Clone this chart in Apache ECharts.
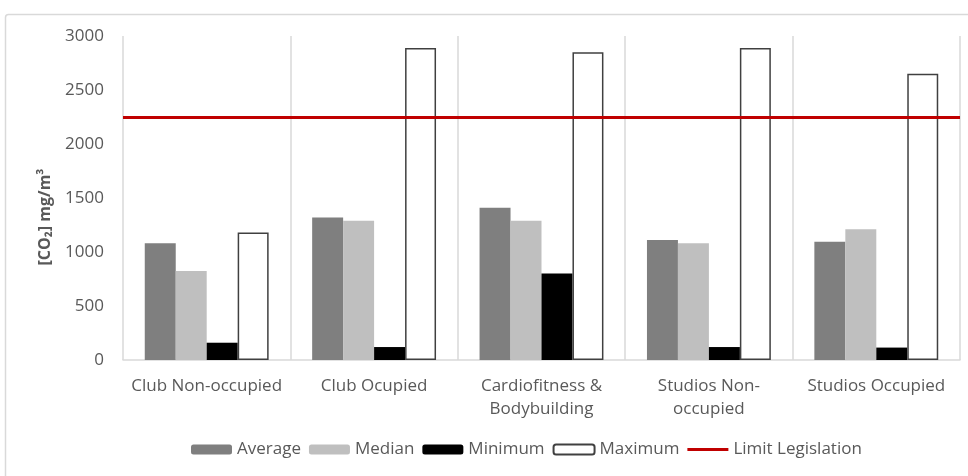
<!DOCTYPE html>
<html>
<head>
<meta charset="utf-8">
<script src="https://cdn.jsdelivr.net/npm/echarts@6/dist/echarts.min.js"></script>
<style>
  html, body { margin: 0; padding: 0; background: #fff; }
  #chart { width: 968px; height: 476px; }
</style>
</head>
<body>
<div id="chart"></div>
<script>
// CO2 concentrations per zone (mg/m3)
const categories = ['Club Non-occupied', 'Club Ocupied', 'Cardiofitness &\nBodybuilding', 'Studios Non-\noccupied', 'Studios Occupied'];
const average = [1080, 1320, 1410, 1110, 1095];
const median  = [825, 1290, 1290, 1080, 1210];
const minimum = [160, 120, 800, 120, 115];
const maximum = [1180, 2890, 2850, 2890, 2650];
const LIMIT = 2250;
const yTicks = { min: 0, max: 3000, interval: 500 };

const FONT = '"Open Sans", sans-serif';
const TXT = '#595959';

const chart = echarts.init(document.getElementById('chart'));

chart.setOption({
  animation: false,
  backgroundColor: '#fff',
  graphic: [
    {
      type: 'rect',
      shape: { x: 5.5, y: 14.5, width: 1000, height: 500, r: 3 },
      style: { fill: 'none', stroke: '#d9d9d9', lineWidth: 1.5 },
      silent: true
    },
    {
      type: 'text',
      x: 45, y: 217,
      rotation: Math.PI / 2,
      style: {
        text: '[CO\u2082] mg/m\u00B3',
        font: 'bold 16px ' + FONT,
        fill: TXT,
        align: 'center',
        verticalAlign: 'middle'
      }
    }
  ],
  grid: { left: 123, right: 8, top: 36, bottom: 116, containLabel: false },
  legend: {
    left: 186,
    top: 436,
    itemWidth: 41,
    itemHeight: 10,
    itemGap: 8,
    textStyle: { fontFamily: FONT, fontSize: 17, color: TXT },
    data: [
      'Average', 'Median', 'Minimum', 'Maximum',
      { name: 'Limit Legislation', icon: 'path://M0,0H41V3H0Z' }
    ]
  },
  xAxis: {
    type: 'category',
    data: categories,
    axisLine: { show: true, lineStyle: { color: '#d9d9d9', width: 1.5 } },
    axisTick: { show: false },
    splitLine: { show: true, lineStyle: { color: '#d9d9d9', width: 1.5 } },
    axisLabel: {
      fontFamily: FONT, fontSize: 17, color: TXT, margin: 15, lineHeight: 23,
      interval: 0, align: 'center'
    }
  },
  yAxis: {
    type: 'value',
    min: yTicks.min, max: yTicks.max, interval: yTicks.interval,
    axisLine: { show: false },
    axisTick: { show: false },
    splitLine: { show: false },
    axisLabel: {
      fontFamily: FONT, fontSize: 17, color: TXT, margin: 19,
      formatter: v => String(v)
    }
  },
  series: [
    {
      name: 'Average', type: 'bar', data: average,
      barGap: '0%', barCategoryGap: '26%',
      itemStyle: { color: '#7f7f7f' }
    },
    {
      name: 'Median', type: 'bar', data: median,
      itemStyle: { color: '#bfbfbf' }
    },
    {
      name: 'Minimum', type: 'bar', data: minimum,
      itemStyle: { color: '#000000' }
    },
    {
      name: 'Maximum', type: 'bar', data: maximum,
      itemStyle: { color: '#ffffff', borderColor: '#404040', borderWidth: 1.5 }
    },
    {
      name: 'Limit Legislation', type: 'line', data: [],
      symbol: 'none',
      lineStyle: { color: '#c00000', width: 3 },
      itemStyle: { color: '#c00000' },
      markLine: {
        silent: true,
        symbol: ['none', 'none'],
        label: { show: false },
        lineStyle: { color: '#c00000', width: 3, type: 'solid' },
        data: [{ yAxis: LIMIT }]
      }
    }
  ]
});
</script>
</body>
</html>
